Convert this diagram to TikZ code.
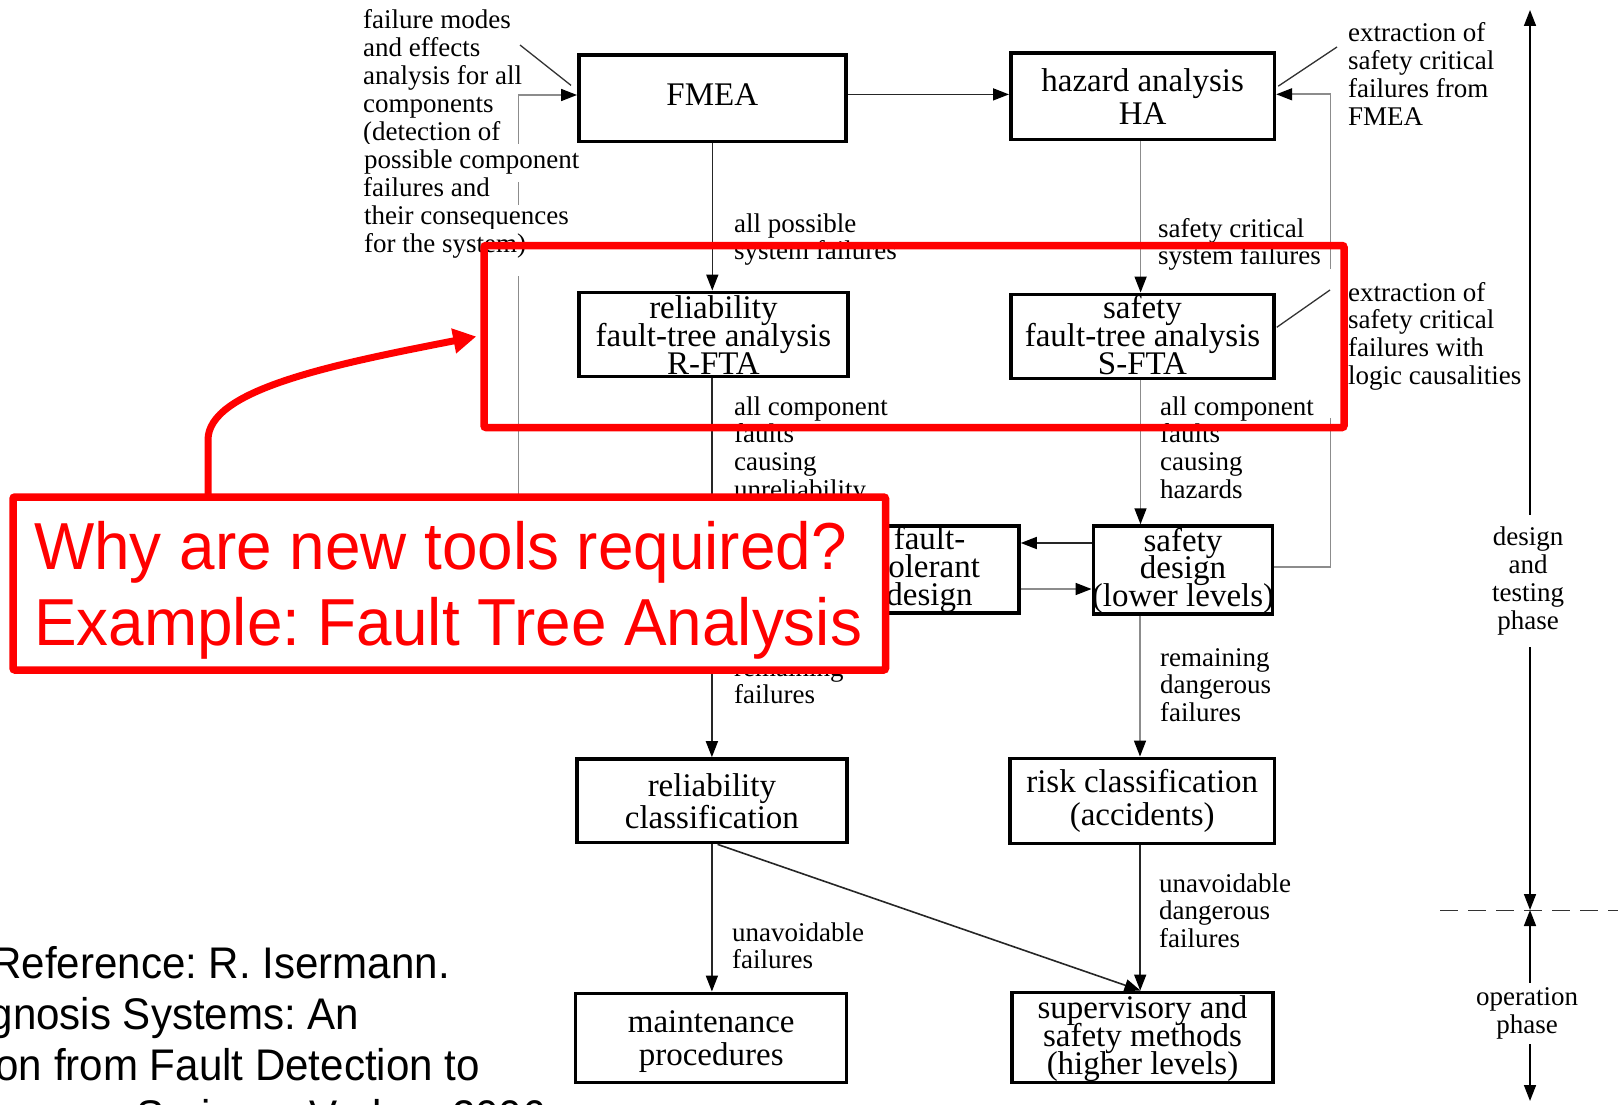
\documentclass[tikz,border=0pt]{standalone}
\usepackage{fontspec}
\usepackage{array}
\setmainfont{Liberation Serif}
\newfontfamily\slidesans[FakeStretch=0.96]{Liberation Sans}
\newfontfamily\refsans[FakeStretch=0.95]{Liberation Sans}
\usetikzlibrary{arrows.meta}

\frenchspacing
\setlength\fboxsep{1pt}
% small annotation font
\newcommand\lblfont{\fontsize{27}{27.8}\selectfont}
% left / centred multi-line texts whose baseline is the first line
\newcommand\tl[1]{\begin{tabular}[t]{@{}l@{}}#1\end{tabular}}
\newcommand\tc[1]{\begin{tabular}[t]{@{}c@{}}#1\end{tabular}}
% centred cell that takes no room, so the line pitch is exact
\newcolumntype{Z}{>{\setbox0=\hbox\bgroup}c<{\egroup\ht0=0pt\dp0=0pt\hbox to 0pt{\hss\box0\hss}}}
% box text: #1 line pitch, #2 downward shift, #3 lines
\newcommand\bt[3]{\raisebox{-#2pt}[\height][\depth]{\fontsize{33}{#1}\selectfont\begin{tabular}{@{}Z@{}}#3\end{tabular}}}
% a text line on a white ground
\newcommand\wb[1]{\smash{\colorbox{white}{#1}}}

\tikzset{
  box/.style={draw=black, line width=3.5pt, inner sep=0pt},
  conn/.style={draw=black!85, line width=1.6pt, -{Triangle[length=16pt,width=12pt,color=black]}},
  gconn/.style={conn, draw=black!45},
  ptr/.style={draw=black!80, line width=1.3pt},
  lbl/.style={anchor=base west, inner sep=0pt, font=\lblfont},
  phase/.style={anchor=base, inner xsep=0pt, fill=white, font=\fontsize{27}{28}\selectfont},
  axisline/.style={draw=black, line width=1.6pt, {Triangle[length=16pt,width=12pt]}-{Triangle[length=16pt,width=12pt]}},
  redframe/.style={draw=red, line width=7.5pt, rounded corners=2pt, inner sep=0pt},
  redtext/.style={anchor=base west, inner sep=0pt, text=red, font=\slidesans\fontsize{66.5}{70}\selectfont},
  source/.style={anchor=base east, inner sep=0pt, font=\refsans\fontsize{44.3}{50}\selectfont},
}

\begin{document}
\begin{tikzpicture}[x=1pt,y=-1pt]
\useasboundingbox (0,0) rectangle (1618,1105);
\clip (0,0) rectangle (1618,1105);
\fill[white] (0,0) rectangle (1618,1105);

% ---------- process boxes ----------
\node[box, minimum width=267pt, minimum height=86.7pt] (fmea) at (712.3,98.4) {\bt{31.7}{0.6}{FMEA}};
\node[box, minimum width=263.7pt, minimum height=86.3pt] (ha) at (1142.6,96.2) {\bt{33}{5.2}{hazard analysis\\HA}};
\node[box, minimum width=269pt, minimum height=84.4pt] (rfta) at (713.4,334.5) {\bt{27.9}{6.7}{reliability\\fault-tree analysis\\R-FTA}};
\node[box, minimum width=263pt, minimum height=84pt] (sfta) at (1142.5,336.3) {\bt{27.9}{4.4}{safety\\fault-tree analysis\\S-FTA}};
\node[box, minimum width=179pt, minimum height=87pt] (ft) at (929.5,569.5) {\bt{27.9}{2.6}{fault-\\tolerant\\design}};
\node[box, minimum width=179.4pt, minimum height=88pt] (sd) at (1183,570) {\bt{27.3}{3.5}{safety\\design\\(lower levels)}};
\node[box, minimum width=269.7pt, minimum height=83.7pt] (rc) at (711.9,800.8) {\bt{32}{5.3}{reliability\\classification}};
\node[box, minimum width=264.6pt, minimum height=85pt] (risk) at (1142.2,800.8) {\bt{33}{2}{risk classification\\(accidents)}};
\node[box, minimum width=271pt, minimum height=89.4pt] (mp) at (711.2,1038) {\bt{33}{4.5}{maintenance\\procedures}};
\node[box, minimum width=261pt, minimum height=90.4pt] (sup) at (1142.5,1037.5) {\bt{27.9}{3.5}{supervisory and\\safety methods\\(higher levels)}};

% ---------- connectors ----------
\coordinate (fo) at ([yshift=4pt]fmea.east);
\draw[conn] (fo) -- (fo -| ha.west);
\draw[conn] (fmea.south) -- (fmea.south |- rfta.north);
\coordinate (hs) at ([xshift=-2pt]ha.south);
\draw[gconn] (hs) -- (hs |- sfta.north);
\draw[conn] (rc.north |- rfta.south) -- (rc.north);
\coordinate (ss) at ([xshift=-2pt]sfta.south);
\draw[gconn] (ss) -- (ss |- sd.north);
\coordinate (sdl) at ([yshift=27pt]sd.west);
\draw[conn] (sdl) -- (sdl -| ft.east);
\coordinate (ftr) at ([yshift=-19.5pt]ft.east);
\draw[gconn] (ftr) -- (ftr -| sd.west);
\coordinate (sds) at ([xshift=-43pt]sd.south);
\draw[gconn] (sds) -- (sds |- risk.north);
\draw[conn] (rc.south) -- (rc.south |- mp.north);
\draw[conn] ([xshift=5.7pt]rc.south) -- ([xshift=-2pt]sup.north);
\coordinate (rks) at ([xshift=-2pt]risk.south);
\draw[conn] (rks) -- (rks |- sup.north);
% feedback loops
\coordinate (so) at ([yshift=3pt]sd.east);
\coordinate (rfb) at (1330.5,94.3);
\draw[gconn] (so) -| (rfb) -- (rfb -| ha.east);
\coordinate (lfb) at (518.5,95);
\draw[gconn] (ft.west) -| (lfb) -- (lfb -| fmea.west);

% ---------- annotations ----------
\node[lbl] (lfm) at (363,29) {\fontsize{27}{28}\selectfont\tl{failure modes\\and effects\\analysis for all\\components\\(detection of\\\wb{\rule[-12pt]{0pt}{36pt}possible component}\\failures and\\\wb{their consequences}\\\wb{\rule[-22pt]{0pt}{45pt}for the system)}}};
\node[lbl] (lha) at (1348,42) {\tl{extraction of\\safety critical\\failures from\\FMEA}};
\node[lbl, fill=white, inner ysep=12.4pt] (lsf) at (1328,301) {\hspace*{20pt}\tl{extraction of\\safety critical\\failures with\\logic causalities\rule[-21.4pt]{0pt}{0pt}}};
\node[lbl] (lap) at (734,232) {\tl{all possible\\system failures}};
\node[lbl] (lsc) at (1158,237) {\tl{safety critical\\system failures}};
\node[lbl] (lcu) at (734,415) {\tl{all component\\faults\\causing\\unreliability}};
\node[lbl] (lch) at (1160,415) {\tl{all component\\faults\\causing\\hazards}};
\node[lbl] (lrf) at (734,676) {\tl{remaining\\failures}};
\node[lbl] (lrd) at (1160,666) {\tl{remaining\\dangerous\\failures}};
\node[lbl] (luf) at (732,941) {\tl{unavoidable\\failures}};
\node[lbl] (lud) at (1159,892) {\tl{unavoidable\\dangerous\\failures}};

% pointer lines from the annotations
\coordinate (lp) at (520,45);
\draw[ptr] (lp) -- ([xshift=-6pt,yshift=13pt]fmea.west);
\coordinate (hp) at (1337,47);
\draw[ptr] ([xshift=2pt,yshift=10pt]ha.east) -- (hp);
\coordinate (sp) at (1330,290);
\draw[ptr] ([xshift=1pt,yshift=9pt]sfta.east) -- (sp);

% ---------- life-cycle axis ----------
\coordinate (a0) at (1530,10);
\coordinate (a1) at (1530,910);
\coordinate (a2) at (1530,1101);
\draw[axisline] (a0) -- (a1);
\draw[axisline] (a1) -- (a2);
\coordinate (d0) at (1440,910.5);
\coordinate (d1) at (1618,910.5);
\draw[black!80, line width=1.4pt, dash pattern=on 18pt off 10pt] (d0) -- (d1);
\node[phase, inner ysep=10pt] (ldt) at (1528,545) {\tc{design\\and\\testing\\phase}};
\node[phase, inner ysep=2.5pt] (lop) at (1527,1005) {\tc{operation\\phase}};

% ---------- highlight ----------
\node[redframe, minimum width=860pt, minimum height=182pt] (focus) at (914,336.5) {};
\node[redframe, fill=white, minimum width=872.5pt, minimum height=173pt] (qbox) at (449.25,583.5) {};
\node[redtext] (q1) at (34,569.3) {Why are new tools required?};
\node[redtext] (q2) at (34,645.7) {Example: Fault Tree Analysis};
\coordinate (qs) at (208,496);
\draw[red, line width=7pt, -{Triangle[length=23pt,width=24pt]}] (qs) -- ++(0,-56) .. controls +(0,-50) and (330,365) .. ([xshift=-4pt]focus.west);

% ---------- source ----------
\node[source] (r1) at (450,978) {Reference: R. Isermann.};
\node[source] (r2) at (359.5,1029) {Fault-Diagnosis Systems: An};
\node[source] (r3) at (480,1080) {Introduction from Fault Detection to};
\node[source] (r4) at (546,1131) {Springer-Verlag, 2006};
\end{tikzpicture}
\end{document}
